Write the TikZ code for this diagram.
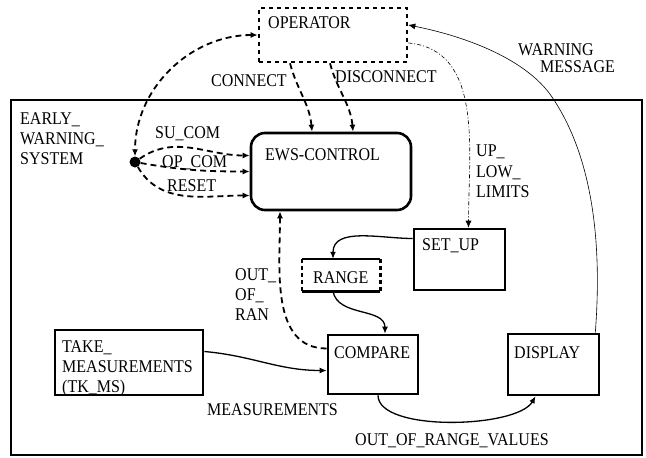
\documentclass[tikz,border=0pt]{standalone}
\usepackage{fontspec}
\setmainfont{Liberation Serif}
\usetikzlibrary{arrows.meta}

\begin{document}
\begin{tikzpicture}[x=1pt, y=-1pt, every node/.style={font=\fontsize{16}{18}\selectfont}]
		% Define styles
		\tikzset{
			blockbox/.style={draw=black, line width=2.6pt, inner sep=0pt},
			flowtip/.style={-{Latex[length=7pt,width=6pt]}},
			dashflow/.style={flowtip, line width=1.8pt, dash pattern=on 6pt off 4pt},
			solidflow/.style={flowtip, line width=1.3pt},
			thinflow/.style={flowtip, line width=0.6pt},
			txt/.style={anchor=base west, inner sep=0pt, yscale=1.12},
			txtblock/.style={anchor=north west, inner sep=0pt, align=left, yscale=1.12},
		}
		\useasboundingbox (0,0) rectangle (646,458);
		
		% ===== BOXES =====
		% Operator (outside the system)
		\node[blockbox, dash pattern=on 4pt off 4pt, minimum width=148pt, minimum height=54pt] (op) at (333,35) {};
		\node[txt] (optxt) at (268,28) {OPERATOR};
		
		% Early warning system frame
		\node[blockbox, minimum width=631pt, minimum height=355pt] (sys) at (326.5,277.5) {};
		\node[txtblock] (systxt) at (20,112) {EARLY\_\\WARNING\_\\SYSTEM};
		
		% EWS control
		\node[blockbox, rounded corners=14pt, minimum width=160pt, minimum height=77pt] (ews) at (331,171.5) {};
		\node[txt] (ewstxt) at (265,160) {EWS-CONTROL};
		
		% Set up
		\node[blockbox, minimum width=91pt, minimum height=61pt] (setup) at (459.5,259.5) {};
		\node[txt] (setuptxt) at (422,250) {SET\_UP};
		
		% Range (dashed sides)
		\node[inner sep=0pt, minimum width=78pt, minimum height=32pt] (range) at (341,275) {};
		\draw[line width=2.6pt] (range.north west) -- (range.north east);
		\draw[line width=2.6pt] (range.south west) -- (range.south east);
		\draw[line width=2.6pt, dash pattern=on 4pt off 3pt] (range.north west) -- (range.south west);
		\draw[line width=2.6pt, dash pattern=on 4pt off 3pt] (range.north east) -- (range.south east);
		\node[txt] (rangetxt) at (313,283) {RANGE};
		
		% Compare
		\node[blockbox, minimum width=90pt, minimum height=59pt] (cmp) at (373,364.5) {};
		\node[txt] (cmptxt) at (334,358) {COMPARE};
		
		% Take measurements
		\node[blockbox, minimum width=148pt, minimum height=65pt] (tkms) at (129,362.5) {};
		\node[txtblock] (tkmstxt) at (62,340) {TAKE\_\\MEASUREMENTS\\(TK\_MS)};
		
		% Display
		\node[blockbox, minimum width=91pt, minimum height=61pt] (disp) at (553.5,364.5) {};
		\node[txt] (disptxt) at (514,358) {DISPLAY};
		
		% Junction dot
		\node[circle, fill=black, inner sep=0pt, minimum size=11pt] (dot) at (135,162) {};
		
		% ===== CONNECTORS =====
		% Operator commands
		\draw[dashflow, {Latex[length=7pt,width=6pt]}-{Latex[length=7pt,width=6pt]}] (op.west) to[out=180,in=90] (dot.north);
		\draw[dashflow] (dot) to[out=35,in=180] ([yshift=16pt]ews.west);
		\draw[dashflow] (dot) to[out=-10,in=180] (ews.west);
		\draw[dashflow] (dot) to[out=-60,in=180] ([yshift=-24pt]ews.west);
		\node[txt] (sucom) at (155,138) {SU\_COM};
		\node[txt] (opcom) at (162,167) {OP\_COM};
		\node[txt] (reset) at (167,191) {RESET};
		
		% Connect / disconnect
		\draw[dashflow] ([xshift=-43pt]op.south) to[out=-75,in=95] ([xshift=-19pt]ews.north);
		\draw[dashflow] ([xshift=-3pt]op.south) to[out=-75,in=95] ([xshift=22pt]ews.north);
		\node[txt] (connect) at (211,86) {CONNECT};
		\node[txt] (disconnect) at (335,82) {DISCONNECT};
		
		% Limits
		\draw[thinflow, dash pattern=on 4pt off 2pt on 1pt off 2pt] ([yshift=-8pt]op.east) to[out=-5,in=90] ([xshift=9pt]setup.north);
		\node[txtblock] (limits) at (476,145) {UP\_\\LOW\_\\LIMITS};
		
		% Warning message
		\draw[thinflow] ([xshift=-5pt]disp.north east) .. controls +(8,-104) and +(36,53) .. (552,97)
			.. controls +(-25,-37) and +(60,12) .. ([yshift=10pt]op.east);
		\node[txt] (warn1) at (518,55) {WARNING};
		\node[txt] (warn2) at (540,72) {MESSAGE};
		
		% Range data flow
		\draw[solidflow] ([yshift=21pt]setup.west) to[out=180,in=90] ([xshift=-8pt]range.north);
		\draw[solidflow] ([xshift=-8pt]range.south) to[out=-80,in=90] ([xshift=12pt]cmp.north);
		
		% Out of range signal
		\draw[dashflow] ([yshift=16pt]cmp.west) to[out=180,in=-90] ([xshift=-51pt]ews.south);
		\node[txtblock] (outofran) at (235,268) {OUT\_\\OF\_\\RAN};
		
		% Measurements
		\draw[solidflow] ([yshift=11pt]tkms.east) to[out=-5,in=180] ([yshift=-6pt]cmp.west);
		\node[txt] (meas) at (207,415) {MEASUREMENTS};
		
		% Out of range values
		\draw[solidflow] ([xshift=5pt]cmp.south) to[out=-90,in=-120,looseness=0.6] ([xshift=-18pt]disp.south);
		\node[txt] (oorv) at (355,445) {OUT\_OF\_RANGE\_VALUES};
		
	\end{tikzpicture}
\end{document}
